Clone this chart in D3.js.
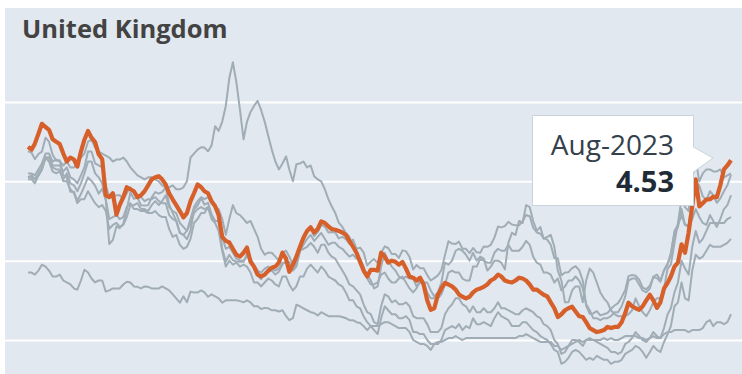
<!DOCTYPE html>
<html>
<head>
<meta charset="utf-8">
<script src="https://cdn.jsdelivr.net/npm/d3@7"></script>
<style>
  html, body { margin: 0; padding: 0; background: #fff; }
  svg { display: block; }
  .title { font-family: "Open Sans", sans-serif; font-weight: 700; font-size: 25.5px; fill: #434343; }
  .grid line { stroke: #fff; stroke-width: 2; }
  .grid .domain, .grid text { display: none; }
  .other { fill: none; stroke: #a0acb6; stroke-width: 2; stroke-linejoin: round; }
  .focus { fill: none; stroke: #d65f2a; stroke-width: 4.2; stroke-linejoin: round; }
  .tip-box { fill: #fff; stroke: #c9d3db; stroke-width: 1; }
  .tip-date { font-family: "Open Sans", sans-serif; font-size: 28px; fill: #34414b; }
  .tip-val { font-family: "Open Sans", sans-serif; font-weight: 700; font-size: 29px; fill: #1f2b36; }
</style>
</head>
<body>
<svg id="chart" width="742" height="374"></svg>
<script>
// 10-year government bond yields, monthly, Jan 2007 .. Aug 2023
const firstMonth = new Date(2007, 0, 1);
const lastMonth = new Date(2023, 7, 1);
const gridValues = [0, 2, 4, 6];
const title = "United Kingdom";
const tipLabel = "Aug-2023";

const uk = [
  4.87, 4.8, 4.95, 5.2, 5.45, 5.37, 5.3, 5.06, 5.0, 4.94, 4.7, 4.5,
  4.6, 4.55, 4.37, 4.75, 5.05, 5.27, 5.1, 4.99, 4.68, 4.56, 3.65, 3.6,
  3.7, 3.16, 3.4, 3.6, 3.85, 3.8, 3.75, 3.6, 3.65, 3.75, 3.9, 4.05,
  4.1, 4.13, 4.05, 3.92, 3.7, 3.54, 3.4, 3.25, 3.09, 3.2, 3.5, 3.7,
  3.92, 3.85, 3.75, 3.7, 3.5, 3.37, 3.15, 2.6, 2.5, 2.46, 2.3, 2.15,
  2.1, 2.2, 2.33, 1.97, 1.85, 1.65, 1.6, 1.65, 1.75, 1.82, 1.85, 1.95,
  2.2, 2.05, 1.72, 1.9, 2.1, 2.35, 2.58, 2.75, 2.84, 2.71, 2.8, 2.99,
  2.95, 2.86, 2.8, 2.78, 2.75, 2.71, 2.65, 2.5, 2.35, 2.2, 1.97, 1.75,
  1.6, 1.77, 1.77, 1.75, 2.2, 2.1, 1.95, 2.0, 1.97, 1.9, 1.97, 1.8,
  1.6, 1.57, 1.5, 1.57, 1.4, 1.0, 0.76, 0.8, 1.14, 1.3, 1.44, 1.4,
  1.35, 1.27, 1.15, 1.09, 1.05, 1.09, 1.2, 1.27, 1.3, 1.34, 1.4, 1.5,
  1.55, 1.65, 1.6, 1.5, 1.47, 1.45, 1.5, 1.57, 1.55, 1.5, 1.4, 1.27,
  1.27, 1.2, 1.14, 1.1, 0.95, 0.8, 0.58, 0.65, 0.75, 0.8, 0.84, 0.72,
  0.6, 0.58, 0.45, 0.3, 0.25, 0.2, 0.22, 0.25, 0.33, 0.3, 0.33, 0.33,
  0.45, 0.68, 0.94, 0.85, 0.8, 0.76, 0.85, 1.0, 1.14, 1.0, 0.81, 0.95,
  1.3, 1.44, 1.6, 1.85, 1.95, 2.41, 2.2, 2.71, 3.37, 4.05, 3.37, 3.45,
  3.54, 3.55, 3.61, 3.6, 3.9, 4.3, 4.4, 4.53
];

const usa = [
  4.76, 4.72, 4.56, 4.69, 4.75, 5.10, 5.00, 4.67, 4.52, 4.53, 4.15, 4.10,
  3.74, 3.74, 3.51, 3.68, 3.88, 4.10, 4.01, 3.89, 3.69, 3.81, 3.53, 2.42,
  2.52, 2.87, 2.82, 2.93, 3.29, 3.72, 3.56, 3.59, 3.40, 3.39, 3.40, 3.59,
  3.73, 3.69, 3.73, 3.85, 3.42, 3.20, 3.01, 2.70, 2.65, 2.54, 2.76, 3.29,
  3.39, 3.58, 3.41, 3.46, 3.17, 3.00, 3.00, 2.30, 1.98, 2.15, 2.01, 1.98,
  1.97, 1.97, 2.17, 2.05, 1.80, 1.62, 1.53, 1.68, 1.72, 1.75, 1.65, 1.72,
  1.91, 1.98, 1.96, 1.76, 1.93, 2.30, 2.58, 2.74, 2.81, 2.62, 2.72, 2.90,
  2.86, 2.71, 2.72, 2.71, 2.56, 2.60, 2.54, 2.42, 2.53, 2.30, 2.33, 2.21,
  1.88, 1.98, 2.04, 1.94, 2.20, 2.36, 2.32, 2.17, 2.17, 2.07, 2.26, 2.24,
  2.09, 1.78, 1.89, 1.81, 1.81, 1.64, 1.50, 1.56, 1.63, 1.76, 2.14, 2.49,
  2.43, 2.42, 2.48, 2.30, 2.30, 2.19, 2.32, 2.21, 2.20, 2.36, 2.35, 2.40,
  2.58, 2.86, 2.84, 2.87, 2.98, 2.91, 2.89, 2.89, 3.00, 3.15, 3.12, 2.83,
  2.71, 2.68, 2.57, 2.53, 2.40, 2.07, 2.06, 1.63, 1.70, 1.71, 1.81, 1.86,
  1.76, 1.50, 0.87, 0.66, 0.67, 0.73, 0.62, 0.65, 0.68, 0.79, 0.87, 0.93,
  1.08, 1.26, 1.61, 1.64, 1.62, 1.52, 1.32, 1.28, 1.37, 1.58, 1.56, 1.47,
  1.76, 1.93, 2.13, 2.75, 2.90, 3.14, 2.90, 2.90, 3.52, 3.98, 3.89, 3.62,
  3.53, 3.75, 3.66, 3.46, 3.57, 3.75, 3.90, 4.17
];

const italy = [
  4.2, 4.2, 4.15, 4.3, 4.45, 4.7, 4.7, 4.5, 4.55, 4.5, 4.4, 4.5,
  4.35, 4.35, 4.5, 4.6, 4.7, 5.0, 5.05, 4.85, 4.75, 4.7, 4.65, 4.6,
  4.5, 4.55, 4.55, 4.6, 4.5, 4.35, 4.25, 4.15, 4.1, 4.05, 4.1, 4.1,
  4.05, 4.0, 3.9, 3.85, 3.85, 3.9, 3.8, 3.8, 3.85, 4.0, 4.6, 4.7,
  4.8, 4.86, 4.85, 4.76, 4.9, 5.39, 5.27, 5.5, 5.9, 6.6, 7.0, 6.5,
  5.8, 5.06, 5.5, 5.75, 5.9, 6.03, 5.8, 5.5, 5.14, 4.8, 4.5, 4.3,
  4.45, 4.63, 4.3, 4.0, 4.43, 4.45, 4.5, 4.35, 4.4, 4.13, 4.05, 4.0,
  3.8, 3.55, 3.37, 3.2, 2.96, 2.85, 2.7, 2.6, 2.35, 2.2, 2.0, 1.8,
  1.65, 1.5, 1.3, 1.35, 1.85, 2.2, 2.0, 1.85, 1.75, 1.6, 1.55, 1.6,
  1.55, 1.55, 1.35, 1.45, 1.45, 1.45, 1.25, 1.1, 1.2, 1.45, 1.95, 1.9,
  2.0, 2.25, 2.3, 2.25, 2.15, 2.0, 2.2, 2.0, 2.1, 2.05, 1.75, 1.85,
  2.0, 2.0, 1.95, 1.78, 2.45, 2.7, 2.65, 3.0, 2.95, 3.4, 3.35, 3.0,
  2.75, 2.85, 2.55, 2.6, 2.65, 2.35, 1.75, 1.5, 0.95, 0.95, 1.25, 1.35,
  1.35, 0.95, 1.5, 1.8, 1.7, 1.45, 1.2, 1.05, 0.95, 0.75, 0.65, 0.6,
  0.6, 0.6, 0.65, 0.75, 1.05, 0.85, 0.7, 0.6, 0.75, 0.95, 1.05, 1.05,
  1.3, 1.8, 1.9, 2.45, 2.95, 3.55, 3.35, 3.25, 4.05, 4.55, 4.0, 4.2,
  4.3, 4.3, 4.25, 4.25, 4.3, 4.1, 4.15, 4.2
];

const canada = [
  4.1, 4.1, 4.05, 4.15, 4.3, 4.6, 4.6, 4.35, 4.3, 4.3, 4.0, 4.0,
  3.8, 3.7, 3.45, 3.55, 3.55, 3.75, 3.6, 3.45, 3.35, 3.4, 3.25, 2.8,
  2.9, 2.95, 2.85, 2.9, 3.1, 3.4, 3.4, 3.45, 3.3, 3.3, 3.25, 3.4,
  3.5, 3.4, 3.5, 3.65, 3.35, 3.25, 3.2, 2.95, 2.85, 2.75, 2.95, 3.2,
  3.3, 3.35, 3.3, 3.35, 3.1, 3.0, 3.0, 2.6, 2.3, 2.35, 2.2, 2.05,
  2.0, 2.0, 2.1, 2.05, 1.9, 1.75, 1.7, 1.8, 1.85, 1.8, 1.75, 1.8,
  1.95, 1.95, 1.9, 1.75, 1.85, 2.25, 2.4, 2.55, 2.65, 2.5, 2.6, 2.7,
  2.55, 2.4, 2.45, 2.45, 2.35, 2.3, 2.2, 2.1, 2.15, 2.05, 2.05, 1.85,
  1.55, 1.4, 1.4, 1.45, 1.65, 1.7, 1.55, 1.45, 1.45, 1.55, 1.6, 1.45,
  1.3, 1.2, 1.3, 1.5, 1.45, 1.2, 1.05, 1.05, 1.05, 1.15, 1.4, 1.7,
  1.75, 1.7, 1.7, 1.55, 1.5, 1.5, 1.85, 1.85, 2.05, 2.0, 1.95, 1.95,
  2.2, 2.3, 2.25, 2.25, 2.4, 2.25, 2.25, 2.25, 2.35, 2.5, 2.4, 2.1,
  1.95, 1.9, 1.7, 1.7, 1.65, 1.45, 1.55, 1.25, 1.35, 1.5, 1.5, 1.6,
  1.5, 1.3, 0.9, 0.75, 0.55, 0.55, 0.5, 0.55, 0.55, 0.6, 0.7, 0.7,
  0.85, 1.1, 1.5, 1.55, 1.55, 1.4, 1.25, 1.2, 1.3, 1.6, 1.65, 1.5,
  1.75, 1.9, 2.2, 2.7, 2.85, 3.3, 2.9, 2.85, 3.05, 3.3, 3.1, 2.95,
  2.9, 3.15, 3.0, 2.85, 3.05, 3.3, 3.4, 3.65
];

const france = [
  4.1, 4.15, 4.05, 4.2, 4.35, 4.6, 4.6, 4.4, 4.4, 4.4, 4.25, 4.35,
  4.1, 4.05, 3.95, 4.15, 4.35, 4.75, 4.75, 4.45, 4.4, 4.35, 3.9, 3.6,
  3.6, 3.65, 3.65, 3.55, 3.7, 3.85, 3.7, 3.6, 3.6, 3.5, 3.55, 3.55,
  3.6, 3.5, 3.45, 3.45, 3.15, 3.05, 3.0, 2.7, 2.65, 2.75, 3.05, 3.35,
  3.5, 3.6, 3.55, 3.6, 3.45, 3.35, 3.3, 3.05, 2.65, 3.05, 3.4, 3.2,
  3.15, 3.05, 2.95, 3.0, 2.8, 2.6, 2.3, 2.15, 2.2, 2.2, 2.1, 2.0,
  2.2, 2.25, 2.1, 1.9, 1.9, 2.25, 2.3, 2.35, 2.45, 2.35, 2.2, 2.4,
  2.4, 2.2, 2.1, 2.05, 1.9, 1.75, 1.6, 1.4, 1.35, 1.25, 1.15, 0.9,
  0.7, 0.65, 0.45, 0.4, 0.85, 1.15, 1.1, 0.95, 1.0, 0.9, 0.9, 0.95,
  0.85, 0.6, 0.55, 0.55, 0.55, 0.4, 0.2, 0.2, 0.2, 0.3, 0.65, 0.8,
  0.9, 1.05, 1.05, 0.9, 0.85, 0.7, 0.85, 0.7, 0.7, 0.8, 0.7, 0.7,
  0.8, 0.95, 0.8, 0.8, 0.75, 0.7, 0.65, 0.65, 0.75, 0.8, 0.75, 0.7,
  0.6, 0.55, 0.4, 0.35, 0.25, 0.0, -0.1, -0.35, -0.3, -0.15, 0.0, 0.0,
  -0.05, -0.15, 0.0, 0.05, 0.0, -0.05, -0.1, -0.15, -0.2, -0.3, -0.3, -0.35,
  -0.3, -0.1, -0.05, 0.05, 0.2, 0.1, 0.0, -0.05, 0.05, 0.2, 0.1, 0.05,
  0.3, 0.65, 0.8, 1.2, 1.45, 2.0, 1.8, 1.65, 2.35, 2.75, 2.45, 2.55,
  2.75, 2.95, 2.95, 2.95, 2.95, 2.95, 3.05, 3.1
];

const germany = [
  4.05, 4.05, 3.95, 4.15, 4.3, 4.6, 4.5, 4.25, 4.2, 4.25, 4.05, 4.2,
  3.95, 3.9, 3.75, 3.95, 4.2, 4.5, 4.5, 4.2, 4.1, 3.95, 3.55, 3.05,
  3.1, 3.15, 3.05, 3.1, 3.35, 3.45, 3.3, 3.3, 3.25, 3.25, 3.2, 3.2,
  3.25, 3.15, 3.1, 3.1, 2.8, 2.6, 2.65, 2.4, 2.3, 2.35, 2.55, 2.95,
  3.05, 3.2, 3.2, 3.35, 3.05, 2.95, 2.75, 2.25, 1.85, 2.0, 1.9, 1.95,
  1.85, 1.9, 1.85, 1.7, 1.45, 1.45, 1.35, 1.45, 1.55, 1.5, 1.4, 1.35,
  1.6, 1.6, 1.4, 1.25, 1.35, 1.6, 1.6, 1.8, 1.9, 1.8, 1.7, 1.85,
  1.75, 1.6, 1.55, 1.5, 1.4, 1.35, 1.2, 1.0, 1.0, 0.85, 0.8, 0.6,
  0.45, 0.35, 0.25, 0.15, 0.55, 0.85, 0.75, 0.65, 0.65, 0.55, 0.55, 0.6,
  0.5, 0.2, 0.2, 0.15, 0.15, 0.0, -0.1, -0.1, -0.1, 0.0, 0.25, 0.3,
  0.35, 0.3, 0.4, 0.25, 0.35, 0.3, 0.55, 0.4, 0.4, 0.45, 0.4, 0.35,
  0.55, 0.7, 0.6, 0.55, 0.5, 0.35, 0.35, 0.35, 0.45, 0.45, 0.35, 0.25,
  0.2, 0.1, 0.05, 0.0, -0.1, -0.25, -0.3, -0.6, -0.55, -0.45, -0.3, -0.25,
  -0.3, -0.4, -0.5, -0.45, -0.5, -0.4, -0.45, -0.5, -0.5, -0.6, -0.55, -0.55,
  -0.5, -0.35, -0.3, -0.25, -0.15, -0.2, -0.3, -0.45, -0.3, -0.15, -0.25, -0.3,
  -0.05, 0.15, 0.35, 0.85, 0.95, 1.45, 1.05, 1.0, 1.75, 2.15, 2.05, 2.1,
  2.25, 2.4, 2.35, 2.35, 2.35, 2.4, 2.45, 2.55
];

const japan = [
  1.7, 1.7, 1.65, 1.75, 1.9, 1.85, 1.75, 1.6, 1.6, 1.65, 1.5, 1.45,
  1.4, 1.3, 1.27, 1.5, 1.77, 1.7, 1.55, 1.45, 1.5, 1.5, 1.22, 1.25,
  1.3, 1.3, 1.3, 1.4, 1.47, 1.45, 1.35, 1.34, 1.3, 1.35, 1.34, 1.3,
  1.3, 1.3, 1.35, 1.3, 1.25, 1.15, 1.05, 0.94, 1.1, 0.95, 1.22, 1.2,
  1.2, 1.25, 1.2, 1.09, 1.15, 1.1, 1.05, 0.94, 1.0, 1.0, 1.0, 1.0,
  0.98, 0.95, 1.0, 0.95, 0.85, 0.85, 0.78, 0.81, 0.8, 0.75, 0.75, 0.72,
  0.75, 0.6, 0.5, 0.55, 0.89, 0.85, 0.8, 0.75, 0.7, 0.68, 0.62, 0.7,
  0.65, 0.6, 0.6, 0.6, 0.6, 0.58, 0.55, 0.5, 0.5, 0.45, 0.43, 0.35,
  0.25, 0.35, 0.35, 0.35, 0.4, 0.45, 0.45, 0.4, 0.35, 0.3, 0.3, 0.3,
  0.2, 0.0, -0.05, -0.1, -0.1, -0.15, -0.25, -0.1, -0.05, -0.05, 0.0, 0.05,
  0.05, 0.1, 0.05, 0.0, 0.05, 0.05, 0.05, 0.05, 0.05, 0.05, 0.05, 0.05,
  0.05, 0.05, 0.05, 0.05, 0.05, 0.05, 0.05, 0.1, 0.1, 0.15, 0.1, 0.05,
  0.0, -0.05, -0.05, -0.05, -0.05, -0.15, -0.15, -0.25, -0.2, -0.15, -0.1, -0.05,
  0.0, -0.05, 0.0, 0.0, 0.0, 0.0, 0.0, 0.05, 0.0, 0.05, 0.0, 0.0,
  0.05, 0.1, 0.1, 0.1, 0.1, 0.05, 0.05, 0.0, 0.05, 0.1, 0.05, 0.05,
  0.15, 0.2, 0.2, 0.25, 0.25, 0.25, 0.25, 0.2, 0.25, 0.25, 0.25, 0.3,
  0.45, 0.5, 0.35, 0.45, 0.45, 0.4, 0.45, 0.65
];

const others = [usa, italy, canada, france, germany, japan];

const svg = d3.select("#chart");
const W = 742, H = 374;

const months = d3.timeMonth.range(firstMonth, d3.timeMonth.offset(lastMonth, 1));

const x = d3.scaleTime().domain([firstMonth, lastMonth]).range([28, 731]);
const y = d3.scaleLinear().domain([0, 6]).range([340, 102]);

// panel background
svg.append("rect")
  .attr("x", 5).attr("y", 8)
  .attr("width", W - 5).attr("height", H - 8)
  .attr("fill", "#e1e8ef");

svg.append("text")
  .attr("class", "title")
  .attr("x", 22).attr("y", 38)
  .text(title);

// white grid lines
svg.append("g")
  .attr("class", "grid")
  .attr("transform", "translate(5,0)")
  .call(d3.axisLeft(y).tickValues(gridValues).tickSize(-(W - 5)).tickFormat(""));

const line = d3.line()
  .x((d, i) => x(months[i]))
  .y(d => y(d));

svg.append("g")
  .selectAll("path")
  .data(others)
  .join("path")
  .attr("class", "other")
  .attr("d", line);

svg.append("path")
  .datum(uk)
  .attr("class", "focus")
  .attr("d", line);

// tooltip for the last point
const lastVal = uk[uk.length - 1];
const tip = svg.append("g");
tip.append("path")
  .attr("class", "tip-box")
  .attr("d", "M532.5,115.5 H693.5 V147 L713,158 L693.5,172 V205.5 H532.5 Z");
tip.append("text")
  .attr("class", "tip-date")
  .attr("x", 674).attr("y", 155)
  .attr("text-anchor", "end")
  .text(tipLabel);
tip.append("text")
  .attr("class", "tip-val")
  .attr("x", 674).attr("y", 192)
  .attr("text-anchor", "end")
  .text(lastVal.toFixed(2));
</script>
</body>
</html>
